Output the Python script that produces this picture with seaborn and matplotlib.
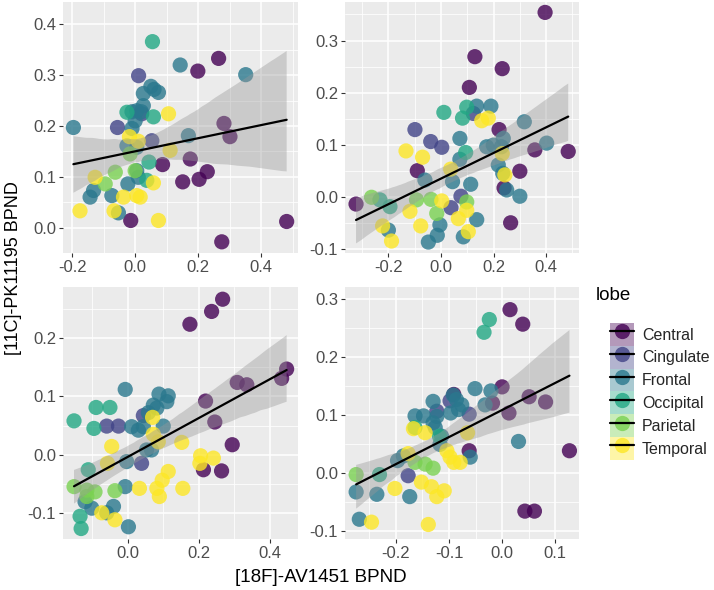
import numpy as np
import pandas as pd
import matplotlib
matplotlib.use("Agg")
import matplotlib.pyplot as plt
import seaborn as sns
from matplotlib.ticker import AutoMinorLocator, FixedLocator, FuncFormatter
from matplotlib.patches import Patch
from matplotlib.lines import Line2D

LOBES = ["Central", "Cingulate", "Frontal", "Occipital", "Parietal", "Temporal"]
COLORS = ["#440154", "#414487", "#2A788E", "#22A884", "#7AD151", "#FDE725"]

# ---------- top-left panel ----------
tl_x = [0.265, 0.199, 0.282, 0.301, 0.175, 0.229, 0.203, 0.151, 0.087, -0.014, 0.275, 0.481,
        0.011, -0.056, 0.053, 0.021,
        0.143, 0.351, -0.196, 0.050, 0.060, 0.074, 0.026, 0.026, -0.010, 0.005, 0.020, 0.000,
        -0.010, 0.169, -0.026, 0.005, 0.005, -0.132, -0.143, -0.074, -0.053, -0.023, 0.010,
        0.055, 0.058, -0.026, 0.044, 0.037,
        -0.063, -0.095, -0.016, 0.000,
        0.106, -0.018, 0.111, -0.127, 0.058, -0.175, -0.067, -0.037, 0.005, 0.016, 0.074, 0.010]
tl_y = [0.333, 0.308, 0.205, 0.179, 0.135, 0.110, 0.095, 0.090, 0.124, 0.014, -0.028, 0.012,
        0.299, 0.197, 0.171, 0.224,
        0.320, 0.301, 0.197, 0.278, 0.272, 0.266, 0.264, 0.240, 0.228, 0.230, 0.228, 0.210,
        0.195, 0.181, 0.161, 0.158, 0.112, 0.073, 0.060, 0.063, 0.029, 0.086, 0.099,
        0.366, 0.218, 0.227, 0.129, 0.093,
        0.109, 0.086, 0.145, 0.112,
        0.224, 0.179, 0.152, 0.099, 0.088, 0.033, 0.033, 0.060, 0.063, 0.060, 0.014, 0.170]
tl_lobe = (["Central"] * 12 + ["Cingulate"] * 4 + ["Frontal"] * 23 + ["Occipital"] * 5
           + ["Parietal"] * 4 + ["Temporal"] * 12)

# ---------- top-right panel ----------
tr_x = [0.396, 0.129, 0.233, 0.108, 0.221, -0.090, 0.300, 0.357, 0.484, 0.240, 0.265, -0.323,
        -0.099, -0.039, 0.003, 0.123, 0.038, 0.076,
        0.136, 0.190, 0.317, 0.402, 0.072, 0.174, 0.199, 0.237, 0.230, 0.218, 0.235, 0.250,
        0.300, 0.072, 0.044, 0.113, -0.061, -0.200, -0.004, -0.014, -0.048, 0.085, 0.136,
        0.011, 0.098, 0.082, 0.094, -0.194, -0.232,
        -0.264, -0.093, -0.038, -0.016, 0.098,
        -0.133, -0.070, 0.155, 0.180, 0.037, 0.233, 0.243, -0.118, -0.077, -0.222, -0.188,
        0.003, 0.066, 0.098, 0.104]
tr_y = [0.354, 0.269, 0.246, 0.210, 0.129, 0.050, 0.049, 0.090, 0.087, 0.017, -0.050, -0.014,
        0.129, 0.106, 0.095, 0.160, -0.021, 0.001,
        0.174, 0.174, 0.144, 0.103, 0.112, 0.096, 0.099, 0.112, 0.096, 0.061, 0.045, 0.013,
        0.001, 0.072, 0.029, 0.024, 0.032, -0.064, -0.054, -0.074, -0.087, -0.077, -0.044,
        0.162, 0.172, 0.151, 0.085, -0.019, -0.006,
        -0.001, -0.006, -0.005, -0.032, -0.010,
        0.088, 0.076, 0.146, 0.151, 0.053, 0.083, 0.042, -0.028, -0.056, -0.056, -0.085,
        -0.008, -0.042, -0.026, -0.067]
tr_lobe = (["Central"] * 12 + ["Cingulate"] * 6 + ["Frontal"] * 23 + ["Occipital"] * 6
           + ["Parietal"] * 5 + ["Temporal"] * 15)

# ---------- bottom-left panel ----------
bl_x = [0.175, 0.236, 0.267, 0.447, 0.433, 0.308, 0.335, 0.219, 0.245, 0.294, 0.213, 0.264,
        -0.059, -0.026, 0.044, 0.039,
        -0.007, 0.088, 0.114, 0.110, 0.072, 0.058, 0.082, 0.011, 0.030, 0.100, 0.044, 0.053,
        0.067, -0.003, -0.007, -0.040, -0.059, -0.120, -0.101, 0.002,
        -0.151, -0.089, -0.050, -0.095, -0.111, -0.134, -0.131,
        -0.151, -0.115, -0.092, -0.036, -0.115,
        0.070, 0.072, 0.086, -0.045, -0.057, 0.152, 0.205, 0.241, 0.203, 0.114, 0.097, 0.082,
        0.089, 0.033, 0.155, -0.036, -0.073]
bl_y = [0.224, 0.246, 0.267, 0.147, 0.131, 0.124, 0.120, 0.092, 0.056, 0.017, -0.026, -0.028,
        0.049, 0.049, 0.067, -0.015,
        0.112, 0.104, 0.101, 0.091, 0.085, 0.072, 0.080, 0.048, 0.042, 0.049, 0.048, 0.008,
        0.008, -0.012, -0.055, -0.089, -0.100, -0.081, -0.092, -0.124,
        0.058, 0.081, 0.081, 0.045, -0.026, -0.106, -0.127,
        -0.055, -0.061, -0.064, -0.062, -0.072,
        0.064, 0.035, 0.022, 0.014, -0.015, 0.021, -0.002, -0.006, -0.015, -0.029, -0.044, -0.058,
        -0.072, -0.058, -0.058, -0.112, -0.100]
bl_lobe = (["Central"] * 12 + ["Cingulate"] * 4 + ["Frontal"] * 20 + ["Occipital"] * 7
           + ["Parietal"] * 5 + ["Temporal"] * 17)

# ---------- bottom-right panel ----------
br_x = [0.015, 0.039, 0.000, 0.051, 0.082, 0.013, -0.018, 0.127, 0.043, 0.061, -0.091, -0.062,
        -0.123, -0.098, -0.062, -0.177,
        -0.051, -0.021, -0.032, -0.130, -0.148, -0.164, -0.123, -0.092, -0.086, -0.076, -0.082,
        -0.097, -0.130, -0.126, -0.114, -0.117, 0.031, -0.060, -0.197, -0.186, -0.275, -0.269,
        -0.236, -0.174,
        -0.024, -0.034, -0.164, -0.118, -0.231,
        -0.275, -0.130, -0.164, -0.145,
        -0.065, -0.167, -0.145, -0.177, -0.104, -0.098, -0.079, -0.091, -0.152, -0.133, -0.123,
        -0.109, -0.202, -0.246, -0.139]
br_y = [0.281, 0.256, 0.148, 0.131, 0.122, 0.103, 0.120, 0.038, -0.066, -0.066, 0.135, 0.038,
        0.106, 0.124, 0.101, -0.005,
        0.145, 0.141, 0.117, 0.123, 0.098, 0.098, 0.097, 0.134, 0.126, 0.117, 0.109,
        0.103, 0.086, 0.078, 0.063, 0.049, 0.054, 0.027, 0.021, 0.029, -0.033, -0.080,
        -0.037, -0.041,
        0.264, 0.242, 0.078, 0.063, -0.003,
        -0.003, 0.008, 0.018, 0.015,
        0.069, 0.076, 0.069, 0.033, 0.038, 0.027, 0.018, 0.018, -0.016, -0.024, -0.041,
        -0.031, -0.027, -0.085, -0.089]
br_lobe = (["Central"] * 12 + ["Cingulate"] * 4 + ["Frontal"] * 24 + ["Occipital"] * 5
           + ["Parietal"] * 4 + ["Temporal"] * 15)

panels = [
    dict(x=tl_x, y=tl_y, lobe=tl_lobe, rect=(63, 2, 298, 253), xlim=(-0.229, 0.517), ylim=(-0.050, 0.444),
         xt=[-0.2, 0.0, 0.2, 0.4], yt=[0.0, 0.1, 0.2, 0.3, 0.4]),
    dict(x=tr_x, y=tr_y, lobe=tr_lobe, rect=(345, 2, 579, 253), xlim=(-0.365, 0.525), ylim=(-0.108, 0.374),
         xt=[-0.2, 0.0, 0.2, 0.4], yt=[-0.1, 0.0, 0.1, 0.2, 0.3]),
    dict(x=bl_x, y=bl_y, lobe=bl_lobe, rect=(63, 287, 298, 539), xlim=(-0.182, 0.479), ylim=(-0.145, 0.288),
         xt=[0.0, 0.2, 0.4], yt=[-0.1, 0.0, 0.1, 0.2]),
    dict(x=br_x, y=br_y, lobe=br_lobe, rect=(345, 287, 579, 539), xlim=(-0.296, 0.145), ylim=(-0.114, 0.320),
         xt=[-0.2, -0.1, 0.0, 0.1], yt=[-0.1, 0.0, 0.1, 0.2, 0.3]),
]

sns.set_theme(style="white")
plt.rcParams["font.family"] = ["Liberation Sans", "DejaVu Sans"]
plt.rcParams["axes.unicode_minus"] = False

W, H = 714, 590
fig = plt.figure(figsize=(W / 100, H / 100), dpi=100)
palette = dict(zip(LOBES, COLORS))
fmt = FuncFormatter(lambda v, p: f"{v:.1f}".replace("-0.0", "0.0"))

for p in panels:
    x0, y0, x1, y1 = p["rect"]
    ax = fig.add_axes([x0 / W, 1 - y1 / H, (x1 - x0) / W, (y1 - y0) / H])
    ax.set_facecolor("#EBEBEB")
    df = pd.DataFrame({"x": p["x"], "y": p["y"], "lobe": p["lobe"]})
    sns.scatterplot(data=df, x="x", y="y", hue="lobe", hue_order=LOBES, palette=palette,
                    s=120, alpha=0.8, linewidth=0, legend=False, ax=ax, zorder=3)
    n_before = len(ax.collections)
    sns.regplot(data=df, x="x", y="y", scatter=False, ci=95, n_boot=1000, seed=3, ax=ax,
                line_kws=dict(color="black", lw=1.6, zorder=5))
    for coll in ax.collections[n_before:]:
        coll.set_facecolor("#999999")
        coll.set_edgecolor("none")
        coll.set_alpha(0.4)
        coll.set_zorder(4)
    ax.set_xlim(*p["xlim"])
    ax.set_ylim(*p["ylim"])
    ax.xaxis.set_major_locator(FixedLocator(p["xt"]))
    ax.yaxis.set_major_locator(FixedLocator(p["yt"]))
    ax.xaxis.set_minor_locator(AutoMinorLocator(2))
    ax.yaxis.set_minor_locator(AutoMinorLocator(2))
    ax.xaxis.set_major_formatter(fmt)
    ax.yaxis.set_major_formatter(fmt)
    ax.grid(which="major", color="white", lw=1.1, zorder=0)
    ax.grid(which="minor", color="white", lw=0.55, zorder=0)
    ax.set_axisbelow(True)
    for s in ax.spines.values():
        s.set_visible(False)
    ax.tick_params(which="major", direction="out", length=3, width=0.8, color="#333333",
                   labelsize=12, labelcolor="#4D4D4D", pad=2, bottom=True, left=True)
    ax.tick_params(which="minor", length=0)
    ax.set_xlabel("")
    ax.set_ylabel("")

fig.text(321 / W, 1 - 577 / H, "[18F]-AV1451 BPND", ha="center", va="center", fontsize=13.5, color="black")
fig.text(14 / W, 1 - 268 / H, "[11C]-PK11195 BPND", ha="center", va="center", rotation=90,
         fontsize=13, color="black")
fig.text(596 / W, 1 - 296 / H, "lobe", ha="left", va="center", fontsize=13.5, color="black")

handles = []
for c in COLORS:
    handles.append((Patch(facecolor=c, alpha=0.4, edgecolor="none"),
                    Line2D([], [], marker="o", ls="", markerfacecolor=c, markeredgewidth=0,
                           alpha=0.8, markersize=11),
                    Line2D([], [], color="black", lw=1.6)))
leg = fig.legend(handles, LOBES, loc="upper left", bbox_to_anchor=(610 / W, 1 - 323 / H),
                 frameon=False, fontsize=11.5,
                 handlelength=1.5, handleheight=1.82, labelspacing=0.0, handletextpad=0.5,
                 borderaxespad=0, borderpad=0)

fig.savefig("out.png", dpi=100, facecolor="white")
